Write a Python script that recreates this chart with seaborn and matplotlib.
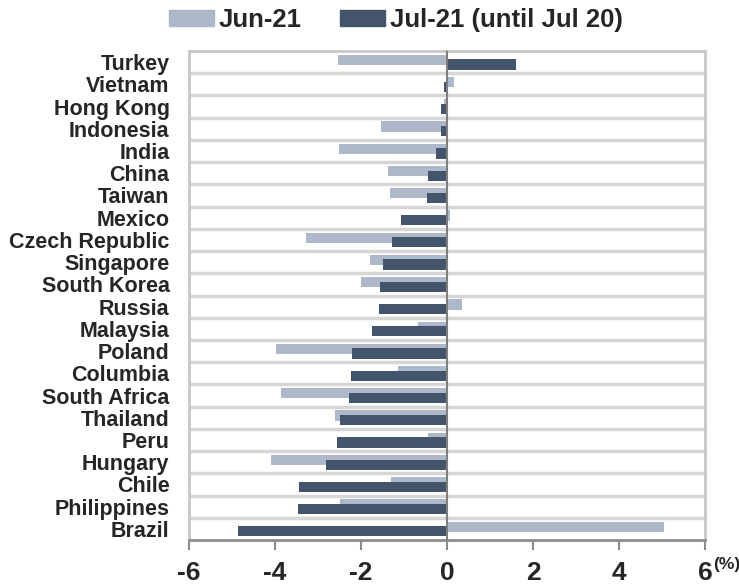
import numpy as np
import pandas as pd
import seaborn as sns
import matplotlib.pyplot as plt
from matplotlib.patches import Patch

# Monthly change by market (%)
countries = ["Turkey", "Vietnam", "Hong Kong", "Indonesia", "India", "China", "Taiwan",
             "Mexico", "Czech Republic", "Singapore", "South Korea", "Russia", "Malaysia",
             "Poland", "Columbia", "South Africa", "Thailand", "Peru", "Hungary", "Chile",
             "Philippines", "Brazil"]
jun_21 = [-2.53, 0.16, -0.06, -1.53, -2.51, -1.38, -1.32, 0.06, -3.29, -1.79, -2.00, 0.35,
          -0.67, -3.97, -1.14, -3.86, -2.61, -0.44, -4.10, -1.30, -2.48, 5.04]
jul_21 = [1.60, -0.06, -0.13, -0.13, -0.25, -0.44, -0.47, -1.06, -1.27, -1.48, -1.56, -1.58,
          -1.75, -2.21, -2.24, -2.29, -2.48, -2.56, -2.82, -3.44, -3.47, -4.85]
series_labels = ["Jun-21", "Jul-21 (until Jul 20)"]
x_ticks = [-6, -4, -2, 0, 2, 4, 6]

c_jun = "#ADB9CA"
c_jul = "#44546A"

sns.set_theme(style="white")
plt.rcParams["font.family"] = ["Liberation Sans", "DejaVu Sans"]
plt.rcParams["font.weight"] = "bold"
plt.rcParams["axes.unicode_minus"] = False

fig = plt.figure(figsize=(7.39, 5.86), dpi=100)
ax = fig.add_axes([189 / 739, 1 - 540 / 586, (705 - 189) / 739, (540 - 51) / 586])

pos = np.arange(len(countries))
df_jun = pd.DataFrame({"value": jun_21, "pos": pos - 0.10})
df_jul = pd.DataFrame({"value": jul_21, "pos": pos + 0.11})

# overlapping bars: June slightly above, July slightly below and drawn on top
sns.barplot(data=df_jun, x="value", y="pos", orient="h", native_scale=True,
            width=0.46, color=c_jun, saturation=1, errorbar=None, linewidth=0, ax=ax)
sns.barplot(data=df_jul, x="value", y="pos", orient="h", native_scale=True,
            width=0.46, color=c_jul, saturation=1, errorbar=None, linewidth=0, ax=ax)

ax.set_ylim(len(countries) - 0.5, -0.5)
ax.set_xlim(-6, 6)
ax.set_yticks(pos)
ax.set_yticklabels(countries)
ax.set_xticks(x_ticks)
ax.set_xticklabels([str(t) for t in x_ticks])
ax.set_xlabel("")
ax.set_ylabel("")

# separators between categories
ax.set_yticks(np.arange(0.5, len(countries) - 1, 1), minor=True)
ax.grid(False)
ax.grid(axis="y", which="minor", color="#D6D6D6", linewidth=2.5)
ax.set_axisbelow(True)
ax.axvline(0, color="#7F7F7F", linewidth=1.5, zorder=5)

for side in ["top", "right", "left"]:
    ax.spines[side].set_color("#C8C8C8")
    ax.spines[side].set_linewidth(2)
ax.spines["bottom"].set_color("#8C8C8C")
ax.spines["bottom"].set_linewidth(2)

ax.tick_params(axis="x", which="major", length=7, width=1.5, color="#8C8C8C",
               pad=8, labelsize=19, bottom=True)
ax.tick_params(axis="y", which="both", length=0, pad=14, labelsize=15.5)
for lab in ax.get_xticklabels() + ax.get_yticklabels():
    lab.set_fontweight("bold")

handles = [Patch(color=c_jun, label=series_labels[0]),
           Patch(color=c_jul, label=series_labels[1])]
fig.legend(handles=handles, loc="upper center", bbox_to_anchor=(396 / 739, 1.012),
           ncol=2, frameon=False, prop={"size": 18.5, "weight": "bold"},
           handlelength=1.75, handleheight=0.6, handletextpad=0.2,
           columnspacing=1.5, borderaxespad=0.2)

fig.text(713 / 739, 1 - 565 / 586, "(%)", fontsize=12.5, fontweight="bold",
         ha="left", va="center")

fig.savefig("out.png", dpi=100)
